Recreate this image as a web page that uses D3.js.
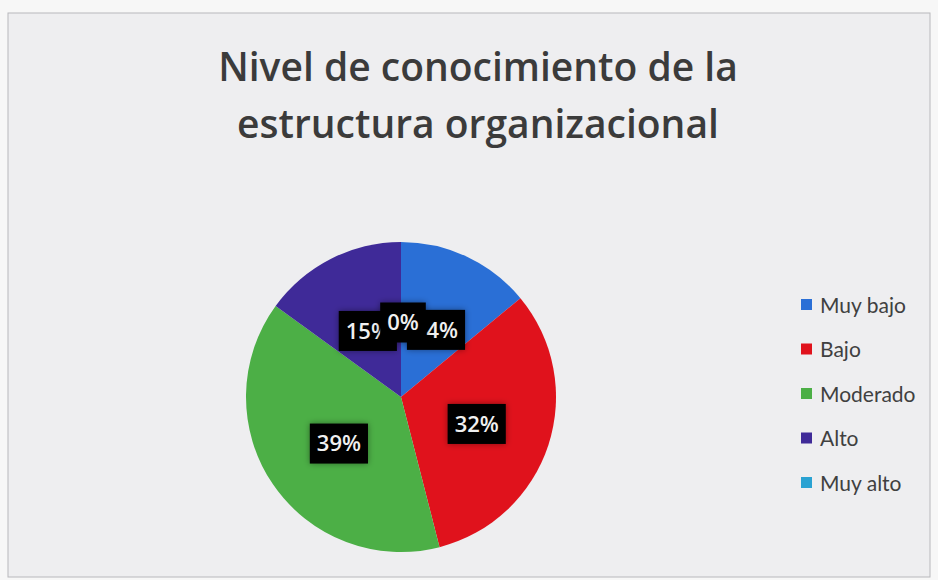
<!DOCTYPE html>
<html><head><meta charset="utf-8">
<script src="https://cdn.jsdelivr.net/npm/d3@7"></script>
<style>html,body{margin:0;padding:0;background:#f6f6f6;}svg{display:block;}</style>
</head><body>
<svg id="c" width="938" height="580"></svg>
<script>
const categories = ["Muy bajo", "Bajo", "Moderado", "Alto", "Muy alto"];
const values = [14, 32, 39, 15, 0];
const colors = ["#2a6fd6", "#e0121c", "#4caf46", "#3f2a98", "#2aa2d2"];
const titleLines = ["Nivel de conocimiento de la", "estructura organizacional"];

const svg = d3.select("#c");
const W = 938, H = 580;

const defs = svg.append("defs");
const f = defs.append("filter").attr("id", "glow").attr("x", "-30%").attr("y", "-30%").attr("width", "160%").attr("height", "160%");
f.append("feGaussianBlur").attr("in", "SourceAlpha").attr("stdDeviation", 3).attr("result", "b");
f.append("feFlood").attr("flood-color", "#000").attr("flood-opacity", 0.4);
f.append("feComposite").attr("in2", "b").attr("operator", "in").attr("result", "s");
const fm = f.append("feMerge");
fm.append("feMergeNode").attr("in", "s");
fm.append("feMergeNode").attr("in", "SourceGraphic");

// chart area
svg.append("rect").attr("x", 0).attr("y", 0).attr("width", W).attr("height", H).attr("fill", "#f7f7f7");
svg.append("rect").attr("x", 8).attr("y", 13).attr("width", 922).attr("height", 564)
  .attr("fill", "#eeeef0").attr("stroke", "#b8b8bc").attr("stroke-width", 1);

// title
const title = svg.append("text").attr("text-anchor", "middle")
  .attr("font-family", "'Open Sans', Lato, sans-serif").attr("font-weight", 600)
  .attr("font-size", 39).attr("fill", "#3b3b3b");
titleLines.forEach((t, i) => {
  title.append("tspan").attr("x", 478).attr("y", 81 + i * 57).text(t);
});

// pie
const cx = 401, cy = 397, R = 155;
const pie = d3.pie().sort(null).value(d => d.v);
const data = categories.map((c, i) => ({c, v: values[i], col: colors[i]}));
const arcs = pie(data);
const arc = d3.arc().innerRadius(0).outerRadius(R);
const labelArc = d3.arc().innerRadius(R * 0.5).outerRadius(R * 0.5);

const g = svg.append("g").attr("transform", `translate(${cx},${cy})`);
g.selectAll("path").data(arcs).join("path")
  .attr("d", arc).attr("fill", d => d.data.col);

// labels
const lg = g.append("g");
arcs.forEach(d => {
  const [x, y] = labelArc.centroid(d);
  const txt = Math.round(d.data.v) + "%";
  const gg = lg.append("g").attr("transform", `translate(${x + 2},${y + 3})`);
  const t = gg.append("text").attr("text-anchor", "middle").attr("dy", "0.36em")
    .attr("font-family", "'Open Sans', Lato, sans-serif").attr("font-weight", 600)
    .attr("font-size", 22).attr("fill", "#f0f0f0").text(txt);
  const bw = t.node().getComputedTextLength() + 14, h = 40;
  gg.insert("rect", "text").attr("x", -bw / 2).attr("y", -h / 2).attr("width", bw).attr("height", h)
    .attr("fill", "#050505").attr("filter", "url(#glow)");
});

// legend
const leg = svg.append("g");
categories.forEach((c, i) => {
  const y = 305 + i * 44.5;
  leg.append("rect").attr("x", 801).attr("y", y - 6).attr("width", 11).attr("height", 11).attr("fill", colors[i]);
  leg.append("text").attr("x", 820).attr("y", y).attr("dy", "0.36em")
    .attr("font-family", "Lato, 'Open Sans', sans-serif").attr("font-size", 21)
    .attr("fill", "#404040").text(c);
});
</script>
</body></html>
